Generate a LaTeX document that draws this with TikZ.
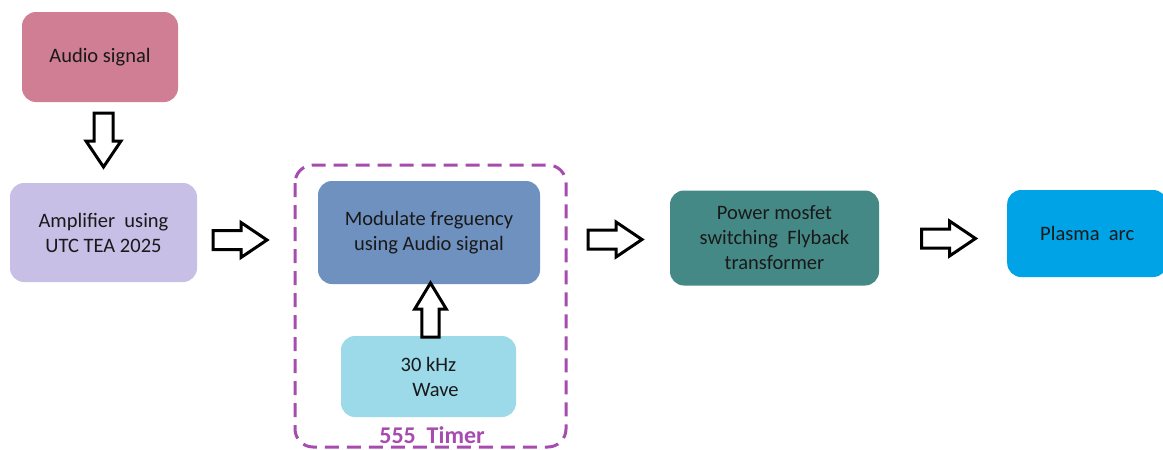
\documentclass[tikz,border=0pt]{standalone}
\usepackage{fontspec}
\setmainfont{Carlito}
\begin{document}
\begin{tikzpicture}[x=1pt,y=-1pt,
  box/.style={draw=none,rounded corners=14pt,align=center,text=black!90,
    font=\fontsize{20.5}{25}\selectfont,inner sep=0pt},
  blk/.style={draw=black,line width=3pt,fill=white,line join=miter},
  rblk/.pic={\path[blk] (-27,-9.5) -- (1,-9.5) -- (1,-17.5) -- (27,0) -- (1,17.5) -- (1,9.5) -- (-27,9.5) -- cycle;},
  timerbox/.style={draw=timer,line width=3pt,dash pattern=on 14pt off 8pt,rounded corners=18pt}
]
\definecolor{audio}{HTML}{CF7E93}
\definecolor{amp}{HTML}{C7BFE6}
\definecolor{modu}{HTML}{6F91BF}
\definecolor{wave}{HTML}{9CDAEA}
\definecolor{power}{HTML}{458987}
\definecolor{plasma}{HTML}{00A3E6}
\definecolor{timer}{HTML}{A64CAE}
\useasboundingbox (0,0) rectangle (1163,450);

% 555 timer group
\draw[timerbox] (295,165) rectangle (566,447);
\node[font=\fontsize{24}{26}\selectfont\bfseries,text=timer] (tlabel) at (432,435) {555\ \ Timer};

% blocks
\node[box,fill=audio,minimum width=156pt,minimum height=90pt] (audio) at (100,57) {Audio signal};
\node[box,fill=amp,minimum width=187pt,minimum height=99pt] (amp) at (103.5,232.5) {Amplifier\ \ using\\UTC TEA 2025};
\node[box,fill=modu,minimum width=222pt,minimum height=103pt] (mod) at (429,232.5) {Modulate freguency\\using Audio signal};
\node[box,fill=wave,minimum width=175pt,minimum height=81pt] (wave) at (428.5,376.5) {30 kHz\\\ \ \ Wave};
\node[box,fill=power,minimum width=209pt,minimum height=95pt] (power) at (774.5,238) {Power mosfet\\switching\ \ Flyback\\transformer};
\node[box,fill=plasma,minimum width=160pt,minimum height=87pt,anchor=west] (plasma) at (1007,233.5) {Plasma\ \ arc};

% block arrows between stages
\pic[rotate=-90] at (103.5,140) {rblk};
\pic at (240,240) {rblk};
\pic[rotate=90,yscale=0.9] at (430.5,310) {rblk};
\pic at (615,239.5) {rblk};
\pic at (948.5,238.5) {rblk};
\end{tikzpicture}
\end{document}
